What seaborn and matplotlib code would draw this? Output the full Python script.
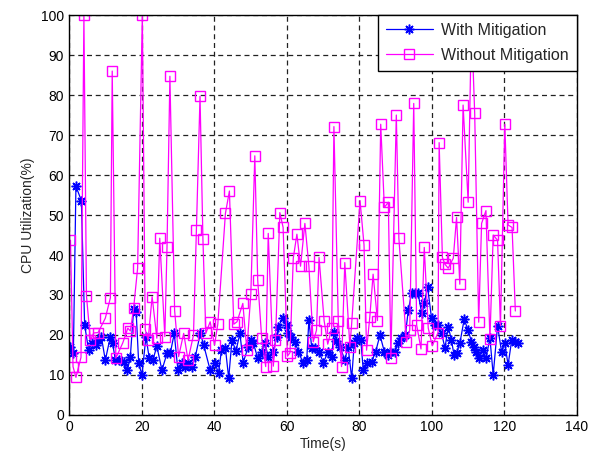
import numpy as np
import matplotlib
matplotlib.use("Agg")
import matplotlib.pyplot as plt
import seaborn as sns
import pandas as pd

# values
with_x = [0.4, 1.2, 1.9, 3.4, 4.3, 5.4, 6.3, 7.3, 8.0, 8.9, 10.0, 11.4, 12.0, 12.8,
          13.9, 15.1, 16.1, 16.9, 17.8, 18.5, 19.2, 20.1, 21.2, 22.1, 23.1, 24.2,
          25.6, 27.0, 27.9, 29.0, 30.0, 31.1, 32.0, 32.8, 33.9, 34.8, 36.2, 37.1,
          38.9, 40.3, 41.2, 42.0, 43.1, 44.0, 44.9, 46.0, 47.1, 48.0, 49.4, 50.1,
          50.8, 52.0, 53.1, 54.0, 54.9, 56.3, 57.2, 57.7, 58.9, 60.0, 60.4, 61.3,
          62.3, 63.2, 64.5, 65.5, 66.1, 66.9, 67.8, 68.9, 70.1, 71.4, 72.4, 73.0,
          73.7, 74.7, 76.0, 76.9, 77.9, 78.6, 79.5, 80.4, 81.1, 82.0, 83.4, 84.5,
          85.7, 86.9, 87.8, 88.4, 89.8, 90.7, 91.6, 92.7, 93.5, 94.4, 95.3, 96.2,
          97.2, 97.9, 98.8, 99.9, 100.8, 101.7, 102.7, 103.6, 104.5, 105.4, 106.1,
          106.8, 107.7, 108.9, 110.0, 110.9, 111.6, 112.2, 113.1, 114.0, 114.9,
          116.0, 116.9, 118.1, 119.2, 120.1, 121.0, 122.0, 122.9, 123.8]
with_y = [17.1, 15.5, 57.2, 53.6, 22.5, 16.2, 17.9, 17.5, 18.7, 19.6, 13.7, 19.6, 17.9, 13.7,
          13.7, 13.3, 11.2, 14.6, 26.4, 25.8, 12.9, 10.0, 19.6, 14.2, 13.7, 17.2,
          11.2, 15.4, 15.4, 20.4, 11.2, 12.9, 12.1, 12.9, 12.1, 14.6, 20.4, 17.5,
          11.2, 12.9, 10.4, 16.2, 16.7, 9.2, 18.7, 16.0, 20.4, 13.1, 17.1, 18.7,
          18.0, 14.2, 15.8, 17.9, 14.6, 15.8, 19.6, 22.1, 24.2, 22.5, 20.4, 19.6,
          18.3, 15.8, 13.1, 13.7, 23.7, 16.7, 16.7, 15.8, 13.1, 15.8, 14.6, 20.8,
          18.6, 17.1, 13.7, 17.1, 9.2, 17.9, 19.2, 18.7, 11.2, 12.9, 13.3, 15.8,
          20.0, 15.8, 15.0, 15.8, 15.8, 17.9, 19.2, 20.0, 26.2, 30.4, 30.4, 30.4,
          25.4, 27.9, 32.1, 24.2, 22.5, 22.5, 20.4, 16.7, 22.1, 18.7, 15.0,
          15.4, 17.9, 23.9, 21.2, 18.3, 17.1, 15.8, 14.2, 16.2, 14.2,
          19.2, 10.0, 22.3, 15.8, 17.9, 12.5, 18.7, 18.3, 17.9]

without_x = [0.4, 1.1, 1.9, 3.3, 4.1, 4.8, 5.9, 6.8, 8.0, 10.0, 11.4, 11.9, 12.9, 14.8,
             16.2, 16.9, 17.8, 18.9, 20.2, 21.0, 21.8, 22.9, 24.2, 25.0, 26.4, 27.0,
             27.8, 29.1, 30.2, 31.6, 32.8, 34.3, 35.1, 36.1, 36.9, 37.7, 38.9, 40.1,
             41.0, 43.1, 44.2, 45.4, 46.3, 47.9, 49.0, 50.1, 51.2, 52.0, 53.1, 54.2,
             54.9, 56.3, 56.9, 58.1, 59.0, 60.2, 60.9, 61.8, 62.8, 63.8, 65.0, 66.1,
             67.3, 68.2, 68.9, 70.3, 71.3, 72.4, 73.0, 74.2, 75.1, 76.0, 77.4, 77.9,
             80.2, 81.3, 82.0, 82.9, 83.8, 85.0, 85.9, 86.9, 88.0, 88.7, 90.2, 90.9,
             93.0, 93.9, 95.0, 95.8, 97.0, 97.9, 99.0, 100.1, 101.7, 102.0, 102.9,
             103.6, 104.5, 105.9, 106.8, 107.7, 108.6, 110.0, 110.9, 111.8, 112.9,
             113.7, 114.9, 116.0, 116.9, 118.1, 118.9, 120.1, 121.0, 122.1, 123.0]
without_y = [43.7, 12.1, 9.4, 14.4, 100.0, 29.8, 18.7, 20.5, 20.6, 24.2, 29.3, 86.0, 14.2, 18.0,
             21.7, 21.0, 26.7, 36.7, 100.0, 21.4, 18.7, 29.6, 19.2, 44.2, 19.6, 41.9,
             84.7, 26.1, 14.6, 20.4, 13.7, 20.0, 46.2, 79.7, 44.0, 20.4, 23.3, 17.5,
             22.7, 50.4, 56.0, 22.7, 23.3, 27.9, 16.2, 30.2, 64.8, 33.7, 19.2, 12.1,
             45.4, 12.2, 18.7, 50.6, 46.9, 14.7, 15.6, 39.2, 45.2, 37.2, 47.9, 37.3,
             18.3, 21.2, 39.4, 23.6, 17.7, 21.7, 72.1, 23.6, 12.1, 38.1, 17.1, 22.9,
             53.6, 42.5, 16.2, 24.6, 35.2, 23.6, 72.7, 51.9, 53.2, 14.3, 75.0, 44.2,
             18.3, 21.2, 77.9, 22.5, 16.5, 41.9, 21.7, 17.3, 20.6, 68.1, 39.4,
             37.7, 36.7, 39.2, 49.4, 32.7, 77.5, 53.2, 98.7, 75.4, 23.2,
             47.9, 51.1, 18.9, 45.0, 43.7, 22.3, 72.7, 47.5, 46.9, 26.0]

x_ticks = [0, 20, 40, 60, 80, 100, 120, 140]
y_ticks = [0, 10, 20, 30, 40, 50, 60, 70, 80, 90, 100]

sns.set_style("white")
plt.rcParams["font.family"] = ["Liberation Sans", "DejaVu Sans"]
plt.rcParams["font.size"] = 10

fig = plt.figure(figsize=(5.9, 4.57), dpi=100)
ax = fig.add_axes([0.117, 0.092, 0.861, 0.875])

sns.lineplot(x=with_x, y=with_y, ax=ax, sort=False, estimator=None,
             color=(0, 0, 1), lw=0.9, marker=(8, 2, 0), markersize=7,
             markeredgecolor=(0, 0, 1), markeredgewidth=1.1,
             label="With Mitigation")
sns.lineplot(x=without_x, y=without_y, ax=ax, sort=False, estimator=None,
             color=(1, 0, 1), lw=0.9, marker="s", markersize=7,
             markerfacecolor="none", markeredgecolor=(1, 0, 1),
             markeredgewidth=1.0, label="Without Mitigation")

ax.set_xlim(0, 140)
ax.set_ylim(0, 100)
ax.set_xticks(x_ticks)
ax.set_yticks(y_ticks)
ax.grid(True, color="#222222", linestyle=(0, (4, 3)), linewidth=0.9)
ax.tick_params(direction="in", length=3, width=0.8, colors="black", labelsize=10)
for s in ax.spines.values():
    s.set_color("black")
    s.set_linewidth(1.0)
ax.set_xlabel("Time(s)", fontsize=10, labelpad=2)
ax.set_ylabel("CPU Utilization(%)", fontsize=10, labelpad=4)

leg = ax.legend(loc="upper right", borderaxespad=0, fancybox=False,
                edgecolor="black", framealpha=1, fontsize=11.5,
                handlelength=3.0, handletextpad=0.5, borderpad=0.5,
                labelspacing=0.6)
leg.get_frame().set_linewidth(1.0)

fig.savefig("out.png", dpi=100)
